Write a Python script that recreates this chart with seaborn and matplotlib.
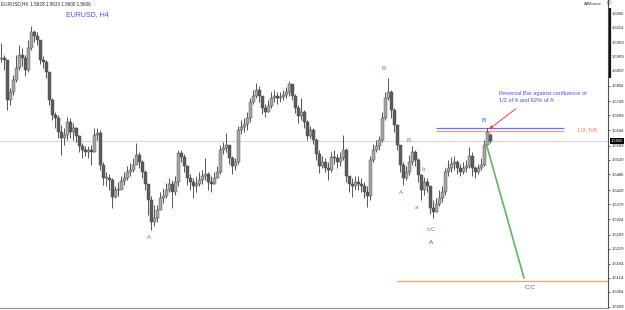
import numpy as np
import pandas as pd
import matplotlib
matplotlib.use("Agg")
import matplotlib.pyplot as plt
import matplotlib.transforms as mtransforms
import seaborn as sns

# ---------------- data (EURUSD H4) ----------------
close = [1.5904, 1.5897, 1.5753, 1.5782, 1.5825, 1.5868, 1.5915, 1.5904, 1.5861, 1.5940,
         1.5998, 1.5983, 1.5969, 1.5897, 1.5890, 1.5854, 1.5753, 1.5699, 1.5688, 1.5638,
         1.5617, 1.5627, 1.5674, 1.5638, 1.5653, 1.5624, 1.5588, 1.5573, 1.5566, 1.5573,
         1.5566, 1.5627, 1.5635, 1.5520, 1.5473, 1.5473, 1.5466, 1.5404, 1.5430, 1.5430,
         1.5462, 1.5473, 1.5494, 1.5502, 1.5520, 1.5555, 1.5530, 1.5494, 1.5451, 1.5394,
         1.5315, 1.5329, 1.5358, 1.5401, 1.5408, 1.5430, 1.5451, 1.5422, 1.5458, 1.5563,
         1.5548, 1.5516, 1.5473, 1.5458, 1.5444, 1.5451, 1.5466, 1.5480, 1.5487, 1.5458,
         1.5451, 1.5473, 1.5494, 1.5573, 1.5581, 1.5591, 1.5545, 1.5516, 1.5530, 1.5645,
         1.5656, 1.5667, 1.5688, 1.5746, 1.5768, 1.5789, 1.5768, 1.5724, 1.5710, 1.5732,
         1.5760, 1.5768, 1.5760, 1.5764, 1.5771, 1.5782, 1.5811, 1.5768, 1.5724, 1.5696,
         1.5710, 1.5674, 1.5624, 1.5645, 1.5609, 1.5559, 1.5516, 1.5530, 1.5509, 1.5502,
         1.5548, 1.5545, 1.5530, 1.5545, 1.5573, 1.5480, 1.5451, 1.5444, 1.5458, 1.5451,
         1.5444, 1.5422, 1.5408, 1.5538, 1.5573, 1.5588, 1.5609, 1.5688, 1.5760, 1.5782,
         1.5717, 1.5663, 1.5591, 1.5520, 1.5473, 1.5494, 1.5530, 1.5566, 1.5538, 1.5484,
         1.5430, 1.5458, 1.5444, 1.5365, 1.5351, 1.5379, 1.5401, 1.5422, 1.5494, 1.5509,
         1.5523, 1.5530, 1.5509, 1.5494, 1.5509, 1.5516, 1.5552, 1.5509, 1.5494, 1.5509,
         1.5520, 1.5591, 1.5638, 1.5606]
high = [1.5958, 1.5915, 1.5897, 1.5796, 1.5843, 1.5915, 1.5951, 1.5940, 1.5915, 1.5969,
        1.6019, 1.6005, 1.5998, 1.5969, 1.5911, 1.5897, 1.5854, 1.5760, 1.5710, 1.5699,
        1.5663, 1.5653, 1.5692, 1.5688, 1.5671, 1.5656, 1.5627, 1.5599, 1.5588, 1.5588,
        1.5591, 1.5653, 1.5653, 1.5645, 1.5530, 1.5494, 1.5487, 1.5473, 1.5444, 1.5458,
        1.5480, 1.5494, 1.5516, 1.5527, 1.5545, 1.5599, 1.5566, 1.5538, 1.5502, 1.5448,
        1.5408, 1.5376, 1.5376, 1.5422, 1.5437, 1.5455, 1.5473, 1.5466, 1.5480, 1.5573,
        1.5573, 1.5559, 1.5520, 1.5487, 1.5473, 1.5480, 1.5494, 1.5502, 1.5545, 1.5494,
        1.5480, 1.5494, 1.5516, 1.5591, 1.5602, 1.5635, 1.5588, 1.5552, 1.5545, 1.5660,
        1.5681, 1.5688, 1.5710, 1.5760, 1.5789, 1.5814, 1.5804, 1.5768, 1.5739, 1.5753,
        1.5782, 1.5789, 1.5782, 1.5782, 1.5789, 1.5800, 1.5822, 1.5811, 1.5775, 1.5735,
        1.5760, 1.5717, 1.5681, 1.5660, 1.5653, 1.5617, 1.5573, 1.5552, 1.5545, 1.5530,
        1.5566, 1.5573, 1.5559, 1.5566, 1.5627, 1.5581, 1.5480, 1.5473, 1.5480, 1.5480,
        1.5473, 1.5458, 1.5444, 1.5552, 1.5595, 1.5609, 1.5624, 1.5710, 1.5782, 1.5832,
        1.5789, 1.5724, 1.5663, 1.5591, 1.5530, 1.5516, 1.5555, 1.5588, 1.5573, 1.5545,
        1.5487, 1.5476, 1.5473, 1.5444, 1.5394, 1.5401, 1.5430, 1.5444, 1.5509, 1.5538,
        1.5548, 1.5552, 1.5538, 1.5523, 1.5530, 1.5538, 1.5584, 1.5566, 1.5516, 1.5523,
        1.5545, 1.5609, 1.5653, 1.5633]
low = [1.5890, 1.5861, 1.5717, 1.5735, 1.5771, 1.5818, 1.5861, 1.5875, 1.5840, 1.5854,
       1.5933, 1.5962, 1.5951, 1.5883, 1.5868, 1.5832, 1.5735, 1.5681, 1.5653, 1.5617,
       1.5555, 1.5591, 1.5609, 1.5617, 1.5609, 1.5602, 1.5566, 1.5545, 1.5552, 1.5545,
       1.5520, 1.5566, 1.5609, 1.5502, 1.5448, 1.5444, 1.5430, 1.5365, 1.5401, 1.5408,
       1.5437, 1.5448, 1.5466, 1.5480, 1.5494, 1.5530, 1.5509, 1.5473, 1.5430, 1.5340,
       1.5286, 1.5300, 1.5315, 1.5358, 1.5383, 1.5401, 1.5422, 1.5365, 1.5412, 1.5444,
       1.5530, 1.5494, 1.5448, 1.5430, 1.5401, 1.5422, 1.5444, 1.5451, 1.5466, 1.5430,
       1.5422, 1.5451, 1.5473, 1.5487, 1.5559, 1.5566, 1.5523, 1.5487, 1.5502, 1.5523,
       1.5631, 1.5638, 1.5645, 1.5674, 1.5739, 1.5760, 1.5746, 1.5703, 1.5692, 1.5710,
       1.5724, 1.5746, 1.5739, 1.5746, 1.5753, 1.5760, 1.5768, 1.5753, 1.5706, 1.5671,
       1.5681, 1.5653, 1.5609, 1.5617, 1.5595, 1.5538, 1.5491, 1.5509, 1.5494, 1.5466,
       1.5494, 1.5523, 1.5509, 1.5516, 1.5538, 1.5458, 1.5422, 1.5404, 1.5430, 1.5430,
       1.5422, 1.5401, 1.5369, 1.5394, 1.5530, 1.5566, 1.5573, 1.5602, 1.5681, 1.5753,
       1.5688, 1.5638, 1.5573, 1.5494, 1.5448, 1.5466, 1.5484, 1.5520, 1.5516, 1.5458,
       1.5394, 1.5412, 1.5422, 1.5343, 1.5329, 1.5351, 1.5372, 1.5387, 1.5412, 1.5480,
       1.5494, 1.5502, 1.5487, 1.5480, 1.5487, 1.5494, 1.5509, 1.5480, 1.5473, 1.5487,
       1.5502, 1.5516, 1.5591, 1.5600]
first_open = 1.5900
last_open = 1.5628

ytick_values = [1.6066, 1.6014, 1.5959, 1.5909, 1.5859, 1.5804, 1.5749, 1.5699, 1.5644,
                1.5589, 1.5539, 1.5486, 1.5429, 1.5379, 1.5324, 1.5269, 1.5219, 1.5164,
                1.5114, 1.5064, 1.5009]
ytick_labels = ["1.6066", "1.6014", "1.5959", "1.5909", "1.5859", "1.5804", "1.5749",
                "1.5699", "1.5644", "1.5589", "1.5539", "1.5486", "1.5429", "1.5379",
                "1.5324", "1.5269", "1.5219", "1.5164", "1.5114", "1.5064", "1.5009"]

current_price = 1.5606
level_blue = 1.5653
level_orange = 1.5642
level_low = 1.5102
wave_x = [161.8, 174.2]        # projected C leg (bar index)
wave_y = [1.5588, 1.5113]

header = "EURUSD,H4  1.5628 1.5633 1.5600 1.5606"

# ---------------- style ----------------
sns.set_style("white")
plt.rcParams["font.family"] = ["Liberation Sans", "DejaVu Sans"]

W, H = 625, 310
fig = plt.figure(figsize=(W / 100, H / 100), dpi=100)
ax = fig.add_axes([0, 2 / H, 608 / W, 308 / H])

n = len(close)
x = np.arange(n)
c = np.array(close)
o = np.array([first_open] + close[:-1])
o[-1] = last_open
hi = np.array(high)
lo = np.array(low)

# current price line
ax.axhline(current_price, color="#ddd6cc", lw=0.8, zorder=1)

# candles
up = c >= o
body_bottom = np.minimum(o, c)
body_h = np.maximum(np.abs(c - o), 0.00025)
ax.vlines(x, lo, hi, color="#3a3a3a", lw=0.6, zorder=3)
ax.bar(x, body_h, bottom=body_bottom, width=0.8,
       color=np.where(up, "#a6a6a6", "#5c5c5c"), edgecolor="#444444",
       linewidth=0.3, zorder=4)

# levels
ax.hlines(level_blue, 144.8, 187.5, color="#6b6bff", lw=0.9, zorder=2)
ax.hlines(level_orange, 144.8, 187.5, color="#f4a070", lw=0.9, zorder=2)
ax.hlines(level_low, 131.8, 210, color="#f4a070", lw=0.9, zorder=2)

# projected leg
df_wave = pd.DataFrame({"x": wave_x, "y": wave_y})
sns.lineplot(data=df_wave, x="x", y="y", ax=ax, color="#5cb85c", lw=1.2, zorder=5)

# arrow
ax.annotate("", xy=(161.8, 1.5642), xytext=(172.2, 1.5728),
            arrowprops=dict(arrowstyle="-|>", color="#ff3c3c", lw=0.7,
                            mutation_scale=5), zorder=6)

green = "#3fae3f"
blue = "#4b4bff"
fs = 4.6
labels = [
    ("B", 127.5, 1.5868, green), ("B", 135.8, 1.5606, green),
    ("A", 133.2, 1.5422, green), ("b", 140.5, 1.5502, green),
    ("a", 138.2, 1.5365, green), ("c:C", 143.2, 1.5286, green),
    ("A", 143.2, 1.5239, blue), ("B", 160.8, 1.5681, blue),
    ("C:C", 176.2, 1.5077, blue), ("A", 49.2, 1.5257, green),
]
for t, lx, ly, col in labels:
    ax.text(lx, ly, t, color=col, fontsize=fs, ha="center", va="center", zorder=7)

ax.text(165.8, 1.5764, "Reversal Bar against confluence of\n1/2 of A and 62% of A",
        color=blue, fontsize=4.1, ha="left", va="center", linespacing=1.45, zorder=7)
ax.text(191.8, level_orange + 0.0003, "1/2, 5/8", color="#f08050", fontsize=4.3,
        ha="left", va="center", zorder=7)
ax.text(66 / 608, 1 - 15 / 308, "EURUSD, H4", transform=ax.transAxes, color=blue,
        fontsize=5.0, ha="left", va="center")

# axes
ax.set_xlim(-0.5, 202.2)
ax.set_ylim(1.5005, 1.6113)
ax.set_xticks([])
ax.yaxis.tick_right()
ax.set_yticks(ytick_values)
ax.set_yticklabels(ytick_labels)
ax.tick_params(axis="y", length=1.5, width=0.5, pad=1.0, labelsize=3.0,
               colors="#222222", direction="out")
ax.set_xlabel("")
ax.set_ylabel("")
for s in ["top", "left"]:
    ax.spines[s].set_visible(False)
ax.spines["right"].set_color("#505050")
ax.spines["right"].set_linewidth(0.8)
ax.spines["bottom"].set_color("#909090")
ax.spines["bottom"].set_linewidth(0.8)
if ax.get_legend():
    ax.get_legend().remove()

# thick marker on the price scale
trans = mtransforms.blended_transform_factory(ax.transAxes, ax.transData)
ax.plot([1.003, 1.003], [1.6085, 1.5832], transform=trans, color="#111111",
        lw=1.6, clip_on=False, solid_capstyle="butt")

# current price box
ax.text(1.004, current_price, "1.5606", transform=trans, fontsize=3.0, color="white",
        ha="left", va="center", zorder=10, clip_on=False,
        bbox=dict(boxstyle="square,pad=0.2", fc="black", ec="black", lw=0))

# header and corner texts
fig.text(1 / W, 1 - 4 / H, header, fontsize=3.3, color="#222222", ha="left", va="center")
fig.text(602 / W, 1 - 4 / H, "AllMouse", fontsize=3.2, color="#333333", ha="right",
         va="center")
fig.text(608 / W, 1 - 4 / H, "\u00a9", fontsize=4.5, color="#333333", ha="center",
         va="center", family=["DejaVu Sans"])

fig.savefig("out.png", dpi=100)
